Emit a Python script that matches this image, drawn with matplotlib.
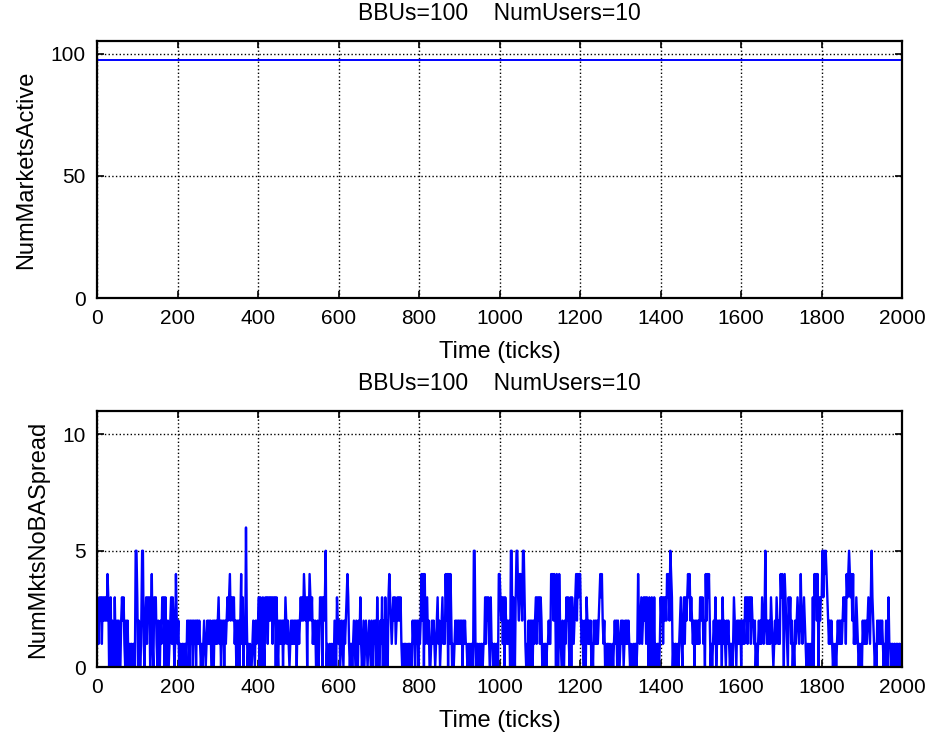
import numpy as np
import matplotlib
matplotlib.use("Agg")
import matplotlib.pyplot as plt

# chart data
active_ticks = [0, 2000]
active_markets = [97.5, 97.5]

# NumMktsNoBASpread, one digit every 2 ticks, one row per 250 ticks
nobas_rows = [
    "1213231323" "23243" "0230210310"
    "2021023231" "0202010" "110110" "55"
    "3021025510" "2313230241" "03231"
    "0210213230" "3102012313" "20142"
    "1201101101" "1021202120" "21202",

    "2121010121" "0121212012" "02121"
    "2312021202" "1232342332" "31202"
    "1202413021" "6201010012" "10212"
    "2303203103" "2313232313" "23031"
    "0212120213" "2121012121" "21202",

    "2123232432" "3032432312" "12012"
    "0132303235" "0100101010" "21032"
    "1201210212" "3431011012" "10210"
    "2131012012" "1012102102" "12031"
    "0021302031" "2034321232" "31232",

    "3231010110" "1011010212" "02120"
    "2124240412" "3120012121" "01231"
    "2012312142" "4041420101" "21212"
    "1212021211" "0101011055" "10110"
    "1011011313" "2310311011" "01104",

    "4323130321" "2120550320" "35532"
    "4432553101" "0202120212" "31323"
    "1320101101" "1211434243" "04204"
    "2102102132" "3103032123" "42434"
    "4212012032" "1212010212" "12123",

    "4342120101" "1010010121" "20210"
    "1212012121" "2101001011" "01421"
    "2312323132" "0310310301" "01101"
    "3231323243" "4254301011" "01012"
    "3102313234" "3423212021" "21213",

    "3231204243" "4201012130" "12121"
    "2031210212" "1011013210" "21212"
    "0212132313" "2313221201" "01212"
    "1321252121" "2132101213" "21214"
    "3430432103" "2312010212" "32124",

    "2123210101" "0100304342" "40323"
    "3535454321" "2121010101" "21212"
    "1232314345" "4342412132" "10101"
    "0212121232" "1353210102" "12121"
    "2101021031" "1011011011" "01101",

    "1",
]
nobas = [int(c) for c in "".join(nobas_rows)]
nobas_ticks = np.arange(len(nobas)) * 2

title_txt = "BBUs=100    NumUsers=10"
xticks = list(range(0, 2001, 200))

plt.rcParams['font.family'] = ['Liberation Sans', 'DejaVu Sans']

fig = plt.figure(figsize=(9.33, 7.38), dpi=100)
ax1 = fig.add_axes([0.104, 0.596, 0.863, 0.348])
ax2 = fig.add_axes([0.104, 0.096, 0.863, 0.347])


def style(ax, yticks, ylim):
    ax.set_xlim(0, 2000)
    ax.set_ylim(*ylim)
    ax.set_xticks(xticks)
    ax.set_yticks(yticks)
    ax.grid(True, color='black', linestyle=':', linewidth=1.0)
    ax.tick_params(direction='in', top=True, right=True, length=5,
                   width=1.2, labelsize=15, pad=8)
    for s in ax.spines.values():
        s.set_linewidth(1.6)
    ax.set_xlabel("Time (ticks)", fontsize=17, labelpad=9)
    ax.set_title(title_txt, fontsize=16.5, pad=15)


ax1.plot(active_ticks, active_markets, color='blue', linewidth=1.4)
style(ax1, [0, 50, 100], (0, 105))
ax1.set_ylabel("NumMarketsActive", fontsize=17, labelpad=10)

ax2.plot(nobas_ticks, nobas, color='blue', linewidth=1.7)
style(ax2, [0, 5, 10], (0, 11))
ax2.set_ylabel("NumMktsNoBASpread", fontsize=17, labelpad=10)

fig.savefig("out.png", dpi=100)
